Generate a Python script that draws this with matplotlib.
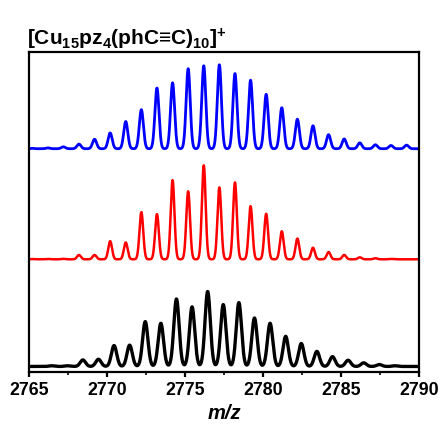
import numpy as np
import matplotlib
matplotlib.use("Agg")
import matplotlib.pyplot as plt
from matplotlib.ticker import MultipleLocator

# Peak positions (m/z) and relative intensities (%)
blue_mz = [2765.2, 2766.2, 2767.2, 2768.2, 2769.2, 2770.2, 2771.2, 2772.2, 2773.2,
           2774.2, 2775.2, 2776.2, 2777.2, 2778.2, 2779.2, 2780.2, 2781.2, 2782.2,
           2783.2, 2784.2, 2785.2, 2786.2, 2787.2, 2788.2, 2789.2]
blue_int = [0.5, 1.0, 2.3, 5.5, 11.3, 18.8, 32.4, 46.5, 72.3, 78.5, 95.3, 98.8, 100,
            89.5, 81.6, 64.8, 48.8, 35.2, 27.3, 16.8, 11.7, 7.0, 4.7, 3.9, 4.3]

red_mz = [2765.2, 2766.2, 2767.2, 2768.2, 2769.2, 2770.2, 2771.2, 2772.2, 2773.2,
          2774.2, 2775.2, 2776.2, 2777.2, 2778.2, 2779.2, 2780.2, 2781.2, 2782.2,
          2783.2, 2784.2, 2785.2, 2786.2, 2787.2, 2788.2]
red_int = [0.3, 0.4, 0.5, 4.6, 4.6, 19.3, 17.9, 50.2, 48.1, 84.2, 72.3, 100, 76.5,
           81.8, 56.5, 48.4, 29.8, 22.1, 12.3, 7.7, 4.6, 2.1, 1.1, 0.4]

black_mz = [2766.45, 2767.45, 2768.45, 2769.45, 2770.45, 2771.45, 2772.45, 2773.45,
            2774.45, 2775.45, 2776.45, 2777.45, 2778.45, 2779.45, 2780.45, 2781.45,
            2782.45, 2783.45, 2784.45, 2785.45, 2786.45, 2787.45, 2788.45]
black_int = [0.9, 0.9, 8.7, 9.6, 27.9, 28.4, 59.8, 57.6, 90, 79.5, 100, 82.5, 85.2,
             64.6, 57.6, 40.2, 30.6, 20.1, 13.1, 8.3, 4.8, 2.6, 0.9]

x_ticks = [2765, 2770, 2775, 2780, 2785, 2790]
title = r"[Cu$_{\mathbf{15}}$pz$_{\mathbf{4}}$(phC≡C)$_{\mathbf{10}}$]$^{\mathbf{+}}$"

plt.rcParams['font.family'] = ['Liberation Sans', 'DejaVu Sans']
plt.rcParams['mathtext.fontset'] = 'custom'
plt.rcParams['mathtext.rm'] = 'Liberation Sans:bold'
plt.rcParams['mathtext.bf'] = 'Liberation Sans:bold'
plt.rcParams['mathtext.it'] = 'Liberation Sans:bold:italic'

fig = plt.figure(figsize=(4.43, 4.32), dpi=100)
ax = fig.add_axes([0.0655, 0.139, 0.8805, 0.7405])

x = np.linspace(2765, 2790, 6001)

def profile(mz, inten, sigma):
    y = np.zeros_like(x)
    for p, h in zip(mz, inten):
        y += h * np.exp(-(x - p) ** 2 / (2 * sigma ** 2))
    return y

ax.plot(x, 223.3 + 0.84 * profile(blue_mz, blue_int, 0.13), color='#0000ff', lw=2.0)
ax.plot(x, 112.7 + 0.94 * profile(red_mz, red_int, 0.12), color='#ff0000', lw=1.8)
ax.plot(x, 5.5 + 0.75 * profile(black_mz, black_int, 0.17), color='black', lw=2.4)

ax.set_xlim(2765, 2790)
ax.set_ylim(0, 320)
ax.set_yticks([])
ax.set_xticks(x_ticks)
ax.xaxis.set_minor_locator(MultipleLocator(2.5))
ax.tick_params(axis='x', which='major', direction='out', length=3.5, width=1.6,
               labelsize=12.8, pad=4)
ax.tick_params(axis='x', which='minor', direction='out', length=2, width=1.2)
for lab in ax.get_xticklabels():
    lab.set_fontweight('bold')
for s in ax.spines.values():
    s.set_linewidth(1.6)

ax.set_xlabel('m/z', fontsize=14.5, fontweight='bold', fontstyle='italic', labelpad=3)
fig.text(0.061, 0.895, title, fontsize=15, fontweight='bold', ha='left', va='baseline')

fig.savefig('out.png', dpi=100)
